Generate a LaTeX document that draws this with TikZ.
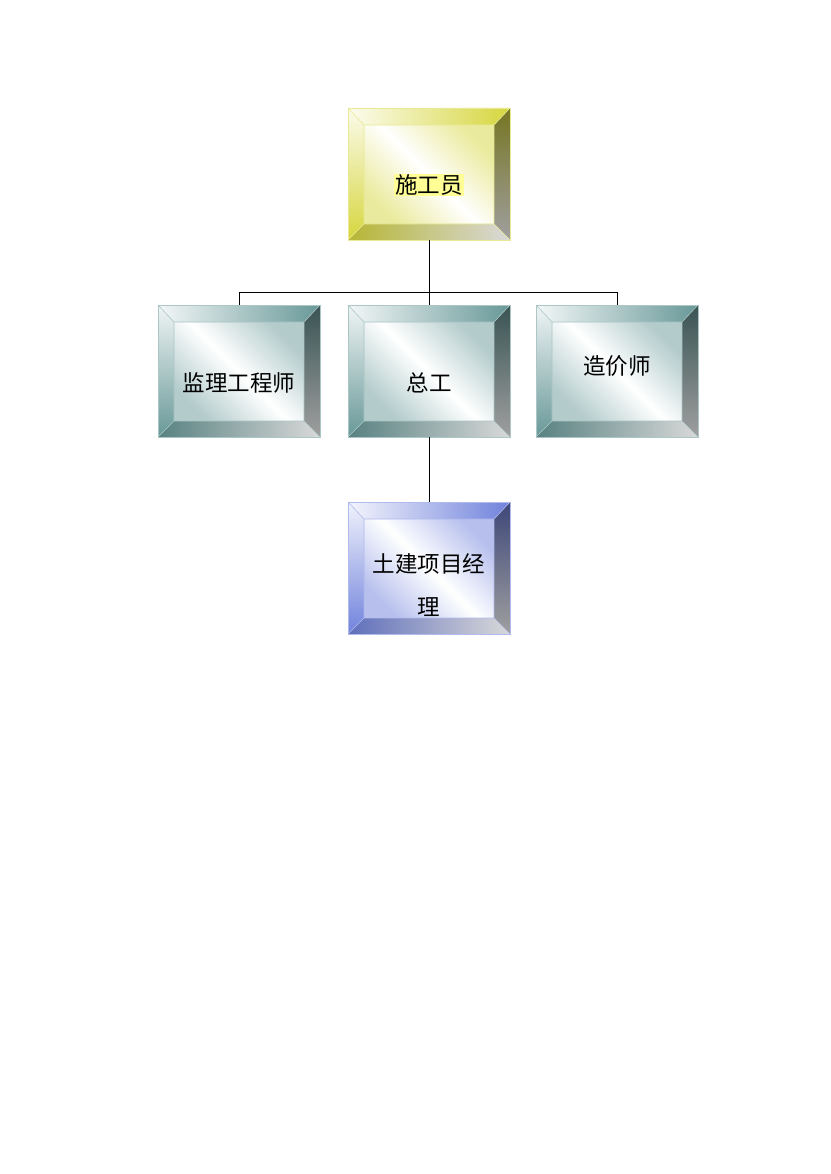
\documentclass[tikz,border=0pt]{standalone}
\usepackage{fontspec}
\setmainfont{Noto Sans CJK SC}
\usepackage{xcolor}
\usetikzlibrary{calc, positioning}
\definecolor{boxyellow}{RGB}{214,214,62}
\definecolor{boxteal}{RGB}{104,152,152}
\definecolor{boxblue}{RGB}{112,130,220}
\definecolor{hilite}{RGB}{255,255,150}
\tikzset{
  bevelbox/.style={
    minimum width=162pt, minimum height=132pt, inner sep=0pt, outer sep=0pt,
    draw=#1!55, line width=0.8pt,
    path picture={
      \path (path picture bounding box.north west) coordinate (nw)
            (path picture bounding box.north east) coordinate (ne)
            (path picture bounding box.south west) coordinate (sw)
            (path picture bounding box.south east) coordinate (se);
      \coordinate (inw) at ([shift={(16pt,-17pt)}]nw);
      \coordinate (ine) at ([shift={(-16pt,-17pt)}]ne);
      \coordinate (isw) at ([shift={(16pt,16pt)}]sw);
      \coordinate (ise) at ([shift={(-16pt,16pt)}]se);
      % face
      \shade[top color=#1!50, bottom color=#1!50, middle color=white, shading angle=-45]
        (inw) rectangle (ise);
      % bevels
      \shade[left color=#1!8, right color=#1] (nw) -- (ne) -- (ine) -- (inw) -- cycle;
      \shade[top color=#1!10, bottom color=#1] (nw) -- (inw) -- (isw) -- (sw) -- cycle;
      \shade[top color=#1!55!black, bottom color=gray!75] (ne) -- (se) -- (ise) -- (ine) -- cycle;
      \shade[left color=#1!85!black, right color=gray!30] (sw) -- (isw) -- (ise) -- (se) -- cycle;
      \draw[#1!55, line width=0.6pt] (inw) rectangle (ise)
        (nw) -- (inw) (ne) -- (ine) (sw) -- (isw) (se) -- (ise);
    }},
  lbl/.style={font=\fontsize{22.5}{43}\selectfont, align=center, inner sep=1pt},
  link/.style={line width=1pt, black}
}

\begin{document}
\begin{tikzpicture}[x=1pt, y=-1pt]
  \useasboundingbox (0,0) rectangle (830,1174);

  % Boxes
  \node[bevelbox=boxyellow] (sgy) at (429,174) {};
  \node[bevelbox=boxteal] (jlgcs) at (239,371) {};
  \node[bevelbox=boxteal] (zg) at (429,371) {};
  \node[bevelbox=boxteal] (zjs) at (617,371) {};
  \node[bevelbox=boxblue] (tjxm) at (429,568) {};

  % Labels
  \node[lbl, fill=hilite] (sgyl) at ([yshift=-11pt]sgy.center) {施工员};
  \node[lbl] (jlgcsl) at ([yshift=-12pt]jlgcs.center) {监理工程师};
  \node[lbl] (zgl) at ([yshift=-12pt]zg.center) {总工};
  \node[lbl] (zjsl) at ([yshift=5pt]zjs.center) {造价师};
  \node[lbl] (tjxml) at ([yshift=-17pt]tjxm.center) {土建项目经\\理};

  % Connectors
  \coordinate (bus) at (429,292);
  \draw[link] (sgy.south) -- (bus);
  \draw[link] (bus) -| (jlgcs.north);
  \draw[link] (bus) -| (zjs.north);
  \draw[link] (bus) -- (zg.north);
  \draw[link] (zg.south) -- (tjxm.north);
\end{tikzpicture}
\end{document}
